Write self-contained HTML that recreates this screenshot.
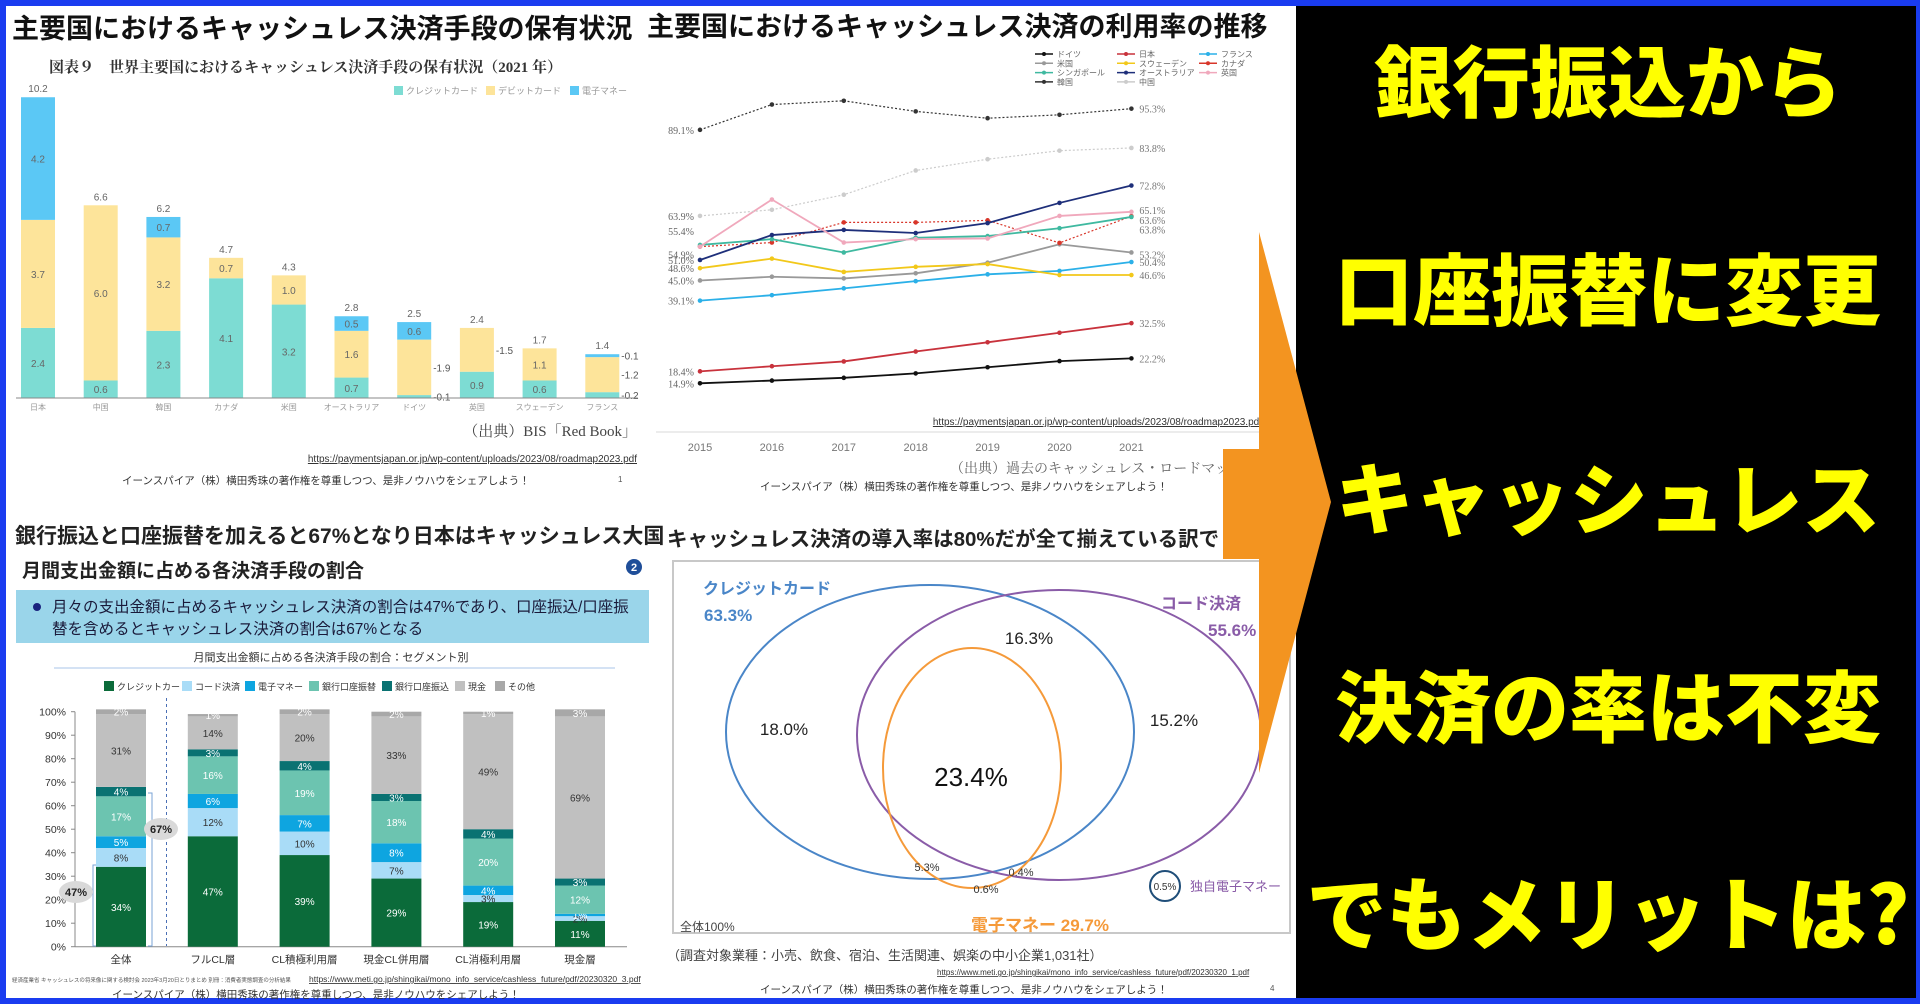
<!DOCTYPE html>
<html><head><meta charset="utf-8">
<style>
html,body{margin:0;padding:0;background:#1a3cf0;}
svg{display:block;font-family:"Liberation Sans","Noto Sans CJK JP",sans-serif;}
.serif{font-family:"Liberation Serif","Noto Serif CJK SC",serif;}
</style></head>
<body>
<svg id="root" width="1920" height="1004" viewBox="0 0 1920 1004">
  <rect x="0" y="0" width="1920" height="1004" fill="#1a3cf0"/>
  <rect x="6" y="6" width="1290" height="992" fill="#ffffff"/>
  <rect x="1296" y="6" width="620" height="992" fill="#000000"/>

  <!-- Q1 -->
  <g id="q1">
    <text x="12" y="38" font-size="27" font-weight="bold" fill="#111">主要国におけるキャッシュレス決済手段の保有状況</text>
    <text x="49" y="72" font-size="15" font-weight="bold" fill="#333" class="serif">図表９　世界主要国におけるキャッシュレス決済手段の保有状況（2021 年）</text>
    <g>
      <rect x="394" y="86" width="9" height="9" fill="#7ddcd3"/><text x="406" y="94" font-size="9" fill="#999">クレジットカード</text>
      <rect x="486" y="86" width="9" height="9" fill="#fde49a"/><text x="498" y="94" font-size="9" fill="#999">デビットカード</text>
      <rect x="570" y="86" width="9" height="9" fill="#5bc8f5"/><text x="582" y="94" font-size="9" fill="#999">電子マネー</text>
    </g>
    <g id="q1bars"></g>
    <line x1="16" y1="398" x2="638" y2="398" stroke="#888" stroke-width="1"/>
    <text x="637" y="436" font-size="15" text-anchor="end" fill="#444" class="serif">（出典）BIS「Red Book」</text>
    <text x="637" y="462" font-size="10" text-anchor="end" fill="#333" text-decoration="underline">https://paymentsjapan.or.jp/wp-content/uploads/2023/08/roadmap2023.pdf</text>
    <text x="122" y="484" font-size="10.5" fill="#333">イーンスパイア（株）横田秀珠の著作権を尊重しつつ、是非ノウハウをシェアしよう！</text>
    <text x="618" y="482" font-size="8" fill="#555">1</text>
  </g>

  <!-- Q2 -->
  <g id="q2">
    <text x="647" y="36" font-size="27" font-weight="bold" fill="#111">主要国におけるキャッシュレス決済の利用率の推移</text>
    <g id="q2legend"></g>
    <g id="q2lines"></g>
    <text x="1262" y="425" font-size="10" text-anchor="end" fill="#333" text-decoration="underline">https://paymentsjapan.or.jp/wp-content/uploads/2023/08/roadmap2023.pdf</text>
    <line x1="656" y1="432" x2="1262" y2="432" stroke="#e6e6e6" stroke-width="1.5"/>
    <g id="q2xt"></g>
    <text x="950" y="473" font-size="14" fill="#666" class="serif">（出典）過去のキャッシュレス・ロードマップ</text>
    <text x="760" y="490" font-size="10.5" fill="#333">イーンスパイア（株）横田秀珠の著作権を尊重しつつ、是非ノウハウをシェアしよう！</text>
  </g>

  <!-- Q3 -->
  <g id="q3">
    <text x="15" y="543" font-size="21" font-weight="bold" fill="#222">銀行振込と口座振替を加えると67%となり日本はキャッシュレス大国</text>
    <text x="22" y="577" font-size="19" font-weight="bold" fill="#222">月間支出金額に占める各決済手段の割合</text>
    <circle cx="634" cy="567" r="8" fill="#1f4e99"/><text x="634" y="571" font-size="11" font-weight="bold" fill="#fff" text-anchor="middle">2</text>
    <rect x="16" y="590" width="633" height="53" fill="#9ad5ea"/>
    <circle cx="37" cy="607" r="4" fill="#1a237e"/>
    <text x="52" y="612" font-size="15.5" fill="#1a1a3a">月々の支出金額に占めるキャッシュレス決済の割合は47%であり、口座振込/口座振</text>
    <text x="52" y="634" font-size="15.5" fill="#1a1a3a">替を含めるとキャッシュレス決済の割合は67%となる</text>
    <text x="331" y="661" font-size="11" text-anchor="middle" fill="#333">月間支出金額に占める各決済手段の割合：セグメント別</text>
    <line x1="54" y1="668" x2="615" y2="668" stroke="#a9c6e8" stroke-width="1"/>
    <g id="q3legend"></g>
    <g id="q3axis"></g>
    <g id="q3bars"></g>
    <line x1="166.5" y1="698" x2="166.5" y2="946" stroke="#4a6fb5" stroke-width="1" stroke-dasharray="3,3"/>
    <path d="M96 946 L93 946 L93 865 L96 865" fill="none" stroke="#7aa3d6" stroke-width="1"/>
    <path d="M148 946 L152 946 L152 793 L148 793" fill="none" stroke="#7aa3d6" stroke-width="1"/>
    <ellipse cx="76" cy="892" rx="17" ry="11" fill="#d9d9d9"/>
    <text x="76" y="896" font-size="11" font-weight="bold" text-anchor="middle" fill="#222">47%</text>
    <ellipse cx="161" cy="829" rx="17" ry="11" fill="#d9d9d9"/>
    <text x="161" y="833" font-size="11" font-weight="bold" text-anchor="middle" fill="#222">67%</text>
    <text x="12" y="982" font-size="5.5" fill="#555">経済産業省 キャッシュレスの将来像に関する検討会 2023年3月20日とりまとめ 別冊：消費者実態調査の分析結果</text>
    <text x="309" y="982" font-size="8.5" fill="#333" text-decoration="underline">https://www.meti.go.jp/shingikai/mono_info_service/cashless_future/pdf/20230320_3.pdf</text>
    <text x="112" y="998" font-size="10.5" fill="#333">イーンスパイア（株）横田秀珠の著作権を尊重しつつ、是非ノウハウをシェアしよう！</text>
  </g>

  <!-- Q4 -->
  <g id="q4">
    <text x="667" y="546" font-size="20.5" font-weight="bold" fill="#222">キャッシュレス決済の導入率は80%だが全て揃えている訳で</text>
    <rect x="673" y="561" width="617" height="372" fill="#fff" stroke="#c8c8c8" stroke-width="2"/>
    <ellipse cx="930" cy="732" rx="204" ry="147" fill="none" stroke="#4a86c8" stroke-width="2"/>
    <ellipse cx="1059" cy="735" rx="202" ry="145" fill="none" stroke="#8a5ca8" stroke-width="2"/>
    <ellipse cx="972" cy="768" rx="89" ry="120" fill="none" stroke="#f59a3a" stroke-width="2"/>
    <text x="703" y="594" font-size="16" font-weight="bold" fill="#4a86c8">クレジットカード</text>
    <text x="704" y="621" font-size="17" font-weight="bold" fill="#4a86c8">63.3%</text>
    <text x="1161" y="609" font-size="16" font-weight="bold" fill="#8a5ca8">コード決済</text>
    <text x="1208" y="636" font-size="17" font-weight="bold" fill="#8a5ca8">55.6%</text>
    <text x="784" y="735" font-size="17" text-anchor="middle" fill="#222">18.0%</text>
    <text x="1029" y="644" font-size="17" text-anchor="middle" fill="#222">16.3%</text>
    <text x="1174" y="726" font-size="17" text-anchor="middle" fill="#222">15.2%</text>
    <text x="971" y="786" font-size="26" text-anchor="middle" fill="#111">23.4%</text>
    <text x="927" y="871" font-size="11" text-anchor="middle" fill="#333">5.3%</text>
    <text x="1021" y="876" font-size="11" text-anchor="middle" fill="#333">0.4%</text>
    <text x="986" y="893" font-size="11" text-anchor="middle" fill="#333">0.6%</text>
    <text x="1040" y="931" font-size="17" font-weight="bold" text-anchor="middle" fill="#f59a3a">電子マネー  29.7%</text>
    <text x="680" y="931" font-size="12" fill="#444">全体100%</text>
    <circle cx="1165" cy="886" r="15" fill="none" stroke="#1f4e79" stroke-width="2"/>
    <text x="1165" y="890" font-size="10" text-anchor="middle" fill="#333">0.5%</text>
    <text x="1190" y="891" font-size="13" fill="#8a5ca8">独自電子マネー</text>
    <text x="667" y="960" font-size="13" fill="#444">（調査対象業種：小売、飲食、宿泊、生活関連、娯楽の中小企業1,031社）</text>
    <text x="937" y="975" font-size="8" fill="#333" text-decoration="underline">https://www.meti.go.jp/shingikai/mono_info_service/cashless_future/pdf/20230320_1.pdf</text>
    <text x="760" y="993" font-size="10.5" fill="#333">イーンスパイア（株）横田秀珠の著作権を尊重しつつ、是非ノウハウをシェアしよう！</text>
    <text x="1270" y="991" font-size="8" fill="#555">4</text>
  </g>

  <!-- arrow -->
  <g>
    <rect x="1223" y="449" width="38" height="110" fill="#f39420"/>
    <polygon points="1259,232 1331,502 1259,773" fill="#f39420"/>
  </g>

  <!-- headline -->
  <g font-family="'Noto Sans CJK JP','WenQuanYi Zen Hei',sans-serif" font-weight="900" fill="#ffff00" font-size="78" text-anchor="middle">
    <text x="1608" y="111">銀行振込から</text>
    <text x="1608" y="319">口座振替に変更</text>
    <text x="1608" y="528">キャッシュレス</text>
    <text x="1608" y="736">決済の率は不変</text>
    <text x="1608" y="944" font-size="80">でもメリットは?</text>
  </g>
</svg>

<script>
const NS='http://www.w3.org/2000/svg';
function mk(parent,tag,attrs,txt){const e=document.createElementNS(NS,tag);for(const k in attrs)e.setAttribute(k,attrs[k]);if(txt!==undefined)e.textContent=txt;parent.appendChild(e);return e;}

// ---- Q1 data ----
const q1Cats=['日本','中国','韓国','カナダ','米国','オーストラリア','ドイツ','英国','スウェーデン','フランス'];
const q1Credit=[2.4,0.6,2.3,4.1,3.2,0.7,0.1,0.9,0.6,0.2];
const q1Debit=[3.7,6.0,3.2,0.7,1.0,1.6,1.9,1.5,1.1,1.2];
const q1Emoney=[4.2,0,0.7,0,0,0.5,0.6,0,0,0.1];
const q1Totals=[10.2,6.6,6.2,4.7,4.3,2.8,2.5,2.4,1.7,1.4];
const q1OutsideDebit=[6,7,9];
(function(){
  const g=document.getElementById('q1bars');
  const x=i=>38+i*62.7, base=398, k=29.2, w=34;
  const y=v=>base-v*k;
  const series=[[q1Credit,'#7ddcd3','credit'],[q1Debit,'#fde49a','debit'],[q1Emoney,'#5bc8f5','emoney']];
  q1Cats.forEach((c,i)=>{
    let cum=0;
    series.forEach(([arr,col,nm],si)=>{
      const v=arr[i]; if(v<=0)return;
      const r=mk(g,'rect',{x:x(i)-w/2,y:y(cum+v),width:w,height:v*k,fill:col});
      
      
      const mid=y(cum+v/2);
      const outside=v<0.5||(si===1&&q1OutsideDebit.includes(i));
      if(outside){mk(g,'text',{x:x(i)+w/2+2,y:mid+4,'font-size':10,fill:'#555'},'-'+v.toFixed(1));}
      else mk(g,'text',{x:x(i),y:mid+4,'font-size':10,'text-anchor':'middle',fill:'#666'},v.toFixed(1));
      cum+=v;
    });
    mk(g,'text',{x:x(i),y:y(cum)-5,'font-size':10,'text-anchor':'middle',fill:'#666'},q1Totals[i].toFixed(1));
    const t=mk(g,'text',{x:x(i),y:410,'font-size':8,'text-anchor':'middle',fill:'#999'},c);
    
    
  });
})();

// ---- Q2 data ----
const q2Years=['2015','2016','2017','2018','2019','2020','2021'];
const q2Korea=[89.1,96.5,97.6,94.5,92.5,93.5,95.3];
const q2China=[63.9,65.7,70.1,77.2,80.5,83.0,83.8];
const q2Australia=[51.0,58.3,59.8,58.9,61.8,67.7,72.8];
const q2UK=[54.9,68.7,56.1,57.1,57.3,63.9,65.1];
const q2Canada=[54.9,56.1,62.0,62.0,62.6,56.0,63.8];
const q2Singapore=[55.4,57.1,53.2,57.5,58.0,60.3,63.6];
const q2US=[45.0,46.1,45.6,47.1,50.2,55.6,53.2];
const q2Sweden=[48.6,51.4,47.5,49.0,49.8,46.6,46.6];
const q2France=[39.1,40.7,42.7,44.8,46.8,47.8,50.4];
const q2Japan=[18.4,19.9,21.3,24.2,26.9,29.7,32.5];
const q2Germany=[14.9,15.7,16.5,17.8,19.6,21.4,22.2];
const q2Names=['ドイツ','日本','フランス','米国','スウェーデン','カナダ','シンガポール','オーストラリア','英国','韓国','中国'];
(function(){
  const g=document.getElementById('q2lines');
  const x=i=>700+i*71.9;
  const y=v=>383.3-(v-14.9)*3.416;
  const S=[
    ['ドイツ',q2Germany,'#111',null,'germany'],
    ['日本',q2Japan,'#c8323c',null,'japan'],
    ['フランス',q2France,'#2bb0e8',null,'france'],
    ['米国',q2US,'#999',null,'us'],
    ['スウェーデン',q2Sweden,'#f2c81a',null,'sweden'],
    ['カナダ',q2Canada,'#d8362a','2,2','canada'],
    ['シンガポール',q2Singapore,'#3fb9a0',null,'singapore'],
    ['オーストラリア',q2Australia,'#1e2f7a',null,'australia'],
    ['英国',q2UK,'#f0a8bc',null,'uk'],
    ['韓国',q2Korea,'#333','2,2','korea'],
    ['中国',q2China,'#ccc','2,2','china']
  ];
  S.forEach(([nm,arr,col,dash,key])=>{
    const p=mk(g,'polyline',{points:arr.map((v,i)=>x(i)+','+y(v)).join(' '),fill:'none',stroke:col,'stroke-width':dash?1.2:1.8});
    if(dash)p.setAttribute('stroke-dasharray',dash);
    
    
    arr.forEach((v,i)=>{const c=mk(g,'circle',{cx:x(i),cy:y(v),r:2.3,fill:col});
      
      });
  });
  const startLabels=[[q2Korea,0],[q2China,0],[q2Singapore,-4],[q2Canada,4],[q2Australia,-1],[q2Sweden,4],[q2US,0],[q2France,0],[q2Japan,0],[q2Germany,0]];
  const startTxt=['89.1%','63.9%','55.4%','54.9%','51.0%','48.6%','45.0%','39.1%','18.4%','14.9%'];
  startLabels.forEach(([arr,off],j)=>{
    mk(g,'text',{x:694,y:y(arr[0])+4+(j===2?-14:j===3?8:0),'font-size':10,'text-anchor':'end',fill:'#666',class:'serif'},startTxt[j]);
  });
  const endSeries=[q2Korea,q2China,q2Australia,q2UK,q2Singapore,q2Canada,q2US,q2France,q2Sweden,q2Japan,q2Germany];
  const endOff=[0,0,0,-2,3,13,2,0,0,0,0];
  endSeries.forEach((arr,j)=>{
    mk(g,'text',{x:x(6)+8,y:y(arr[6])+4+endOff[j],'font-size':10,fill:'#777',class:'serif'},arr[6].toFixed(1)+'%');
  });
  const xt=document.getElementById('q2xt');
  q2Years.forEach((yr,i)=>{const t=mk(xt,'text',{x:x(i),y:451,'font-size':11,'text-anchor':'middle',fill:'#777'},yr);
    
    });
  const lg=document.getElementById('q2legend');
  const legCols=[['ドイツ','#111'],['日本','#c8323c'],['フランス','#2bb0e8'],['米国','#999'],['スウェーデン','#f2c81a'],['カナダ','#d8362a'],['シンガポール','#3fb9a0'],['オーストラリア','#1e2f7a'],['英国','#f0a8bc'],['韓国','#333'],['中国','#ccc']];
  legCols.forEach(([n,c],i)=>{
    const cx=1035+(i%3)*82, cy=54+Math.floor(i/3)*9.3;
    mk(lg,'line',{x1:cx,y1:cy,x2:cx+18,y2:cy,stroke:c,'stroke-width':1.5});
    mk(lg,'circle',{cx:cx+9,cy:cy,r:2,fill:c});
    mk(lg,'text',{x:cx+22,y:cy+3,'font-size':8,fill:'#666'},n);
  });
})();

// ---- Q3 data ----
const q3Cats=['全体','フルCL層','CL積極利用層','現金CL併用層','CL消極利用層','現金層'];
const q3Credit=[34,47,39,29,19,11];
const q3Code=[8,12,10,7,3,2];
const q3Emoney=[5,6,7,8,4,1];
const q3Furikae=[17,16,19,18,20,12];
const q3Furikomi=[4,3,4,3,4,3];
const q3Cash=[31,14,20,33,49,69];
const q3Other=[2,1,2,2,1,3];
const q3YTicks=['0%','10%','20%','30%','40%','50%','60%','70%','80%','90%','100%'];
const q3LegendNames=['クレジットカード','コード決済','電子マネー','銀行口座振替','銀行口座振込','現金','その他'];
(function(){
  const cols=['#0b6b3a','#a9dcf7','#0ea5e0','#6cc4b0','#0a7272','#c0c0c0','#a8a8a8'];
  const txtCols=['#fff','#333','#fff','#fff','#fff','#333','#fff'];
  const series=[q3Credit,q3Code,q3Emoney,q3Furikae,q3Furikomi,q3Cash,q3Other];
  const keys=['credit','code','emoney','furikae','furikomi','cash','other'];
  const y0=946.7, k=(946.7-711.7)/100;
  const y=v=>y0-v*k;
  const x=i=>121+i*91.8, w=50;
  const ax=document.getElementById('q3axis');
  q3YTicks.forEach((t,i)=>{
    const v=i*10;
    mk(ax,'text',{x:66,y:y(v)+4,'font-size':10.5,'text-anchor':'end',fill:'#333'},t);
    mk(ax,'line',{x1:71,y1:y(v),x2:75,y2:y(v),stroke:'#888'});
  });
  mk(ax,'line',{x1:75,y1:y(0),x2:75,y2:y(100),stroke:'#888'});
  mk(ax,'line',{x1:75,y1:y(0),x2:627,y2:y(0),stroke:'#888'});
  const g=document.getElementById('q3bars');
  q3Cats.forEach((c,i)=>{
    let cum=0;
    series.forEach((arr,s)=>{
      const v=arr[i];
      const r=mk(g,'rect',{x:x(i)-w/2,y:y(Math.min(cum+v,101)),width:w,height:v*k,fill:cols[s]});
      
      
      mk(g,'text',{x:x(i),y:y(cum+v/2)+4,'font-size':10,'text-anchor':'middle',fill:txtCols[s]},v+'%');
      cum+=v;
    });
    const t=mk(g,'text',{x:x(i),y:963,'font-size':10.5,'text-anchor':'middle',fill:'#333'},c);
    
    
  });
  const lg=document.getElementById('q3legend');
  let lx=104;
  const widths=[78,63,64,73,73,40,40];
  q3LegendNames.forEach((n,i)=>{
    mk(lg,'rect',{x:lx,y:681,width:10,height:10,fill:cols[i]});
    mk(lg,'text',{x:lx+13,y:690,'font-size':9,fill:'#333'},n);
    lx+=widths[i];
  });
})();
</script>
</body></html>
